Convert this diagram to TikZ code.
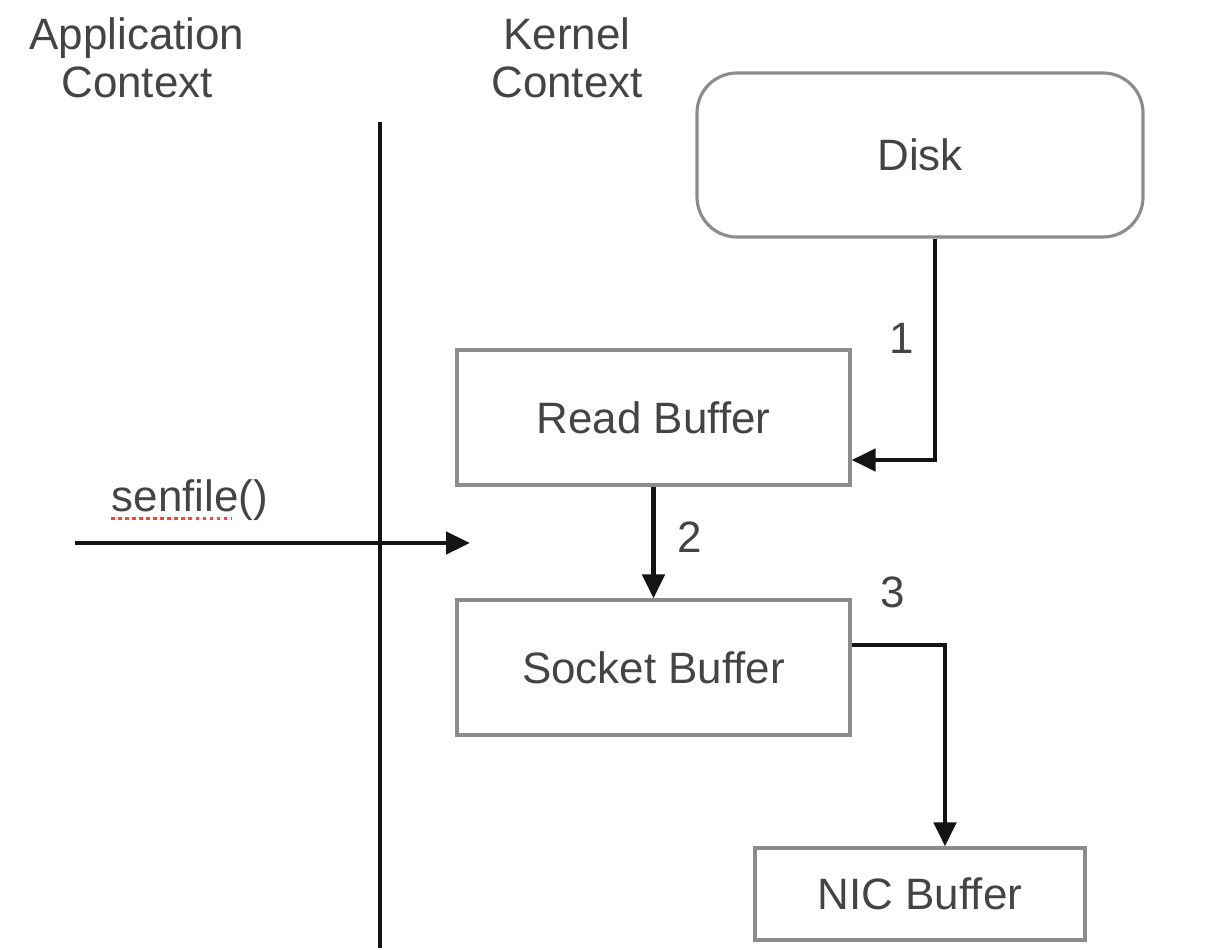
\documentclass[tikz,border=0pt]{standalone}
\usepackage{fontspec}
\setmainfont{Liberation Sans}
\usepackage{xcolor}
\usetikzlibrary{arrows.meta, positioning, calc}

\definecolor{txtgray}{HTML}{444444}
\definecolor{boxgray}{HTML}{8C8C8C}
\definecolor{linedark}{HTML}{141414}

\tikzset{
    buf/.style={draw=boxgray, line width=0.9pt, text=txtgray, inner sep=0pt},
    lbl/.style={text=txtgray, inner sep=0pt, align=center},
    flow/.style={draw=linedark, line width=1.3pt, -{Triangle[length=0.24cm, width=0.22cm]}},
}

\begin{document}
\begin{tikzpicture}[font=\fontsize{12.5}{13.5}\selectfont]
\useasboundingbox (0,0) rectangle (12.18,-9.5);
% Headings and divider
\node[lbl] (app) at (1.37,-0.58) {Application\\Context};
\node[lbl] (kern) at (5.67,-0.58) {Kernel\\Context};
\coordinate (divtop) at (3.80,-1.22);
\coordinate (divbot) at (3.80,-9.48);
\draw[linedark, line width=1.1pt] (divtop) -- (divbot);

% Boxes
\node[buf, rounded corners=0.4cm, minimum width=4.46cm, minimum height=1.64cm] (disk) at (9.20,-1.55) {Disk};
\node[buf, minimum width=3.93cm, minimum height=1.35cm] (read) at (6.535,-4.175) {Read Buffer};
\node[buf, minimum width=3.93cm, minimum height=1.35cm] (sock) at (6.535,-6.675) {Socket Buffer};
\node[buf, minimum width=3.30cm, minimum height=0.92cm] (nic) at (9.20,-8.94) {NIC Buffer};

% Copy steps
\draw[flow] ([xshift=0.15cm]disk.south) |- ([yshift=-0.425cm]read.east);
\draw[flow] (read.south) -- (sock.north);
\draw[flow] ([yshift=0.225cm]sock.east) -| ([xshift=0.25cm]nic.north);
\node[lbl] (n1) at (9.02,-3.38) {1};
\node[lbl] (n2) at (6.90,-5.37) {2};
\node[lbl] (n3) at (8.93,-5.92) {3};

% System call
\coordinate (callstart) at (0.75,-5.43);
\coordinate (callend) at (4.70,-5.43);
\draw[flow] (callstart) -- (callend);
\node[lbl] (send) at (1.90,-5.00) {senfile()};
\draw[red!75, densely dotted, line width=1pt] ([yshift=-0.07cm]send.base west) -- ++(1.20,0);
\end{tikzpicture}
\end{document}
